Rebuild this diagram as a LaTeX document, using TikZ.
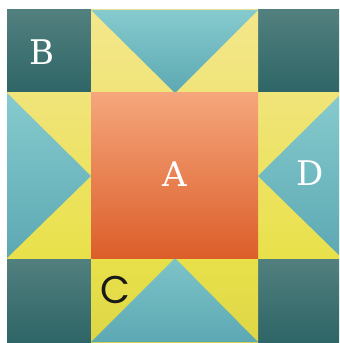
\documentclass[tikz,border=0pt]{standalone}
\usepackage{fontspec}
\usepackage{tikz}
\newfontfamily\slabfont{DejaVu Serif}
\newfontfamily\roundfont{Poppins}
\definecolor{DarkTealTop}{HTML}{52807F}
\definecolor{DarkTealBot}{HTML}{2E6566}
\definecolor{TealTop}{HTML}{86CBCE}
\definecolor{TealBot}{HTML}{5CA8B3}
\definecolor{YellowPale}{HTML}{F4E78C}
\definecolor{YellowMid}{HTML}{F0E47A}
\definecolor{YellowDeep}{HTML}{E9E14A}
\definecolor{OrangeTop}{HTML}{F5A67C}
\definecolor{OrangeBot}{HTML}{DC5E2A}

\begin{document}
\begin{tikzpicture}[
 x=0.03cm, y=-0.03cm,
 corner/.style={top color=DarkTealTop, bottom color=DarkTealBot},
 goose/.style={top color=TealTop, bottom color=TealBot},
 label/.style={text=white, font=\slabfont\fontsize{29}{29}\selectfont, inner sep=0pt}
]
\useasboundingbox (0,0) rectangle (339,343);
\clip (0,0) rectangle (339,343);

% corner squares
\shade[corner] (7,10) rectangle (91,93);
\shade[corner] (258,10) rectangle (342,93);
\shade[corner] (7,258) rectangle (91,342);
\shade[corner] (258,258) rectangle (342,342);

% yellow background of the star points
\shade[top color=YellowPale, bottom color=YellowMid] (91,10) rectangle (258,93);
\shade[top color=YellowMid, bottom color=YellowDeep] (7,93) rectangle (91,258);
\shade[top color=YellowMid, bottom color=YellowDeep] (258,93) rectangle (342,258);
\shade[top color=YellowDeep, bottom color=YellowDeep!95!black] (91,258) rectangle (258,342);

% teal triangles
\shade[goose] (91,10) -- (258,10) -- (175,93) -- cycle;
\shade[goose] (7,93) -- (91,176) -- (7,258) -- cycle;
\shade[goose] (342,93) -- (258,176) -- (342,258) -- cycle;
\shade[top color=TealTop!80!TealBot, bottom color=TealBot] (175,258) -- (258,342) -- (91,342) -- cycle;

% center square
\shade[top color=OrangeTop, bottom color=OrangeBot] (91,93) rectangle (258,258);

% letters
\node[label] (a) at (175,174) {A};
\node[label] (b) at (42,52) {B};
\node[label] (d) at (310,173) {D};
\node[label, text=black!90, font=\roundfont\fontsize{33}{33}\selectfont] (c) at (115,290) {C};
\end{tikzpicture}
\end{document}
